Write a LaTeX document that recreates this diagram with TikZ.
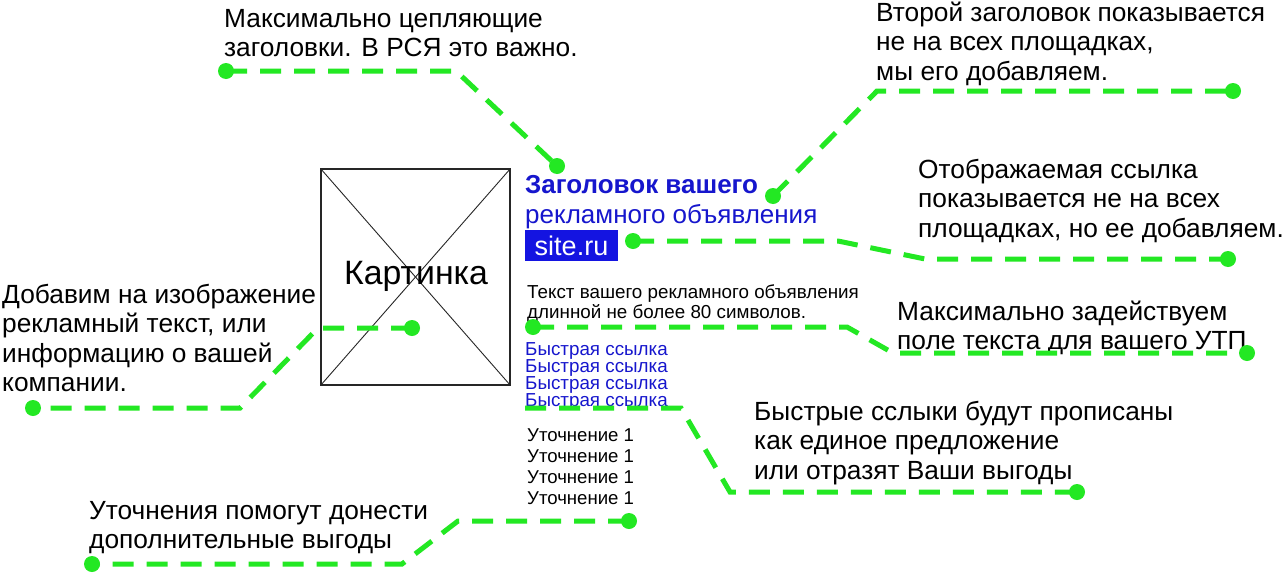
\documentclass[tikz,border=0pt]{standalone}
\usepackage{fontspec}
\setmainfont{Liberation Sans}
\definecolor{lgreen}{RGB}{35,232,35}
\definecolor{adblue}{RGB}{22,22,205}
\definecolor{boxblue}{RGB}{20,20,225}
\begin{document}
\begin{tikzpicture}[x=1pt,y=-1pt,
  dot/.style={circle,fill=lgreen,inner sep=0pt,minimum size=16pt},
  lead/.style={draw=lgreen,line width=5pt,dash pattern=on 21pt off 13pt},
  note/.style={align=left,anchor=base west,inner sep=0pt,font=\fontsize{26.3}{29.5}\selectfont},
  adline/.style={anchor=base west,inner sep=0pt},
]
\useasboundingbox (0,0) rectangle (1284,573);
\fill[white] (0,0) rectangle (1284,573);

% picture placeholder
\node[draw=black!85,line width=1.3pt,minimum width=189pt,minimum height=216pt,inner sep=0pt] (pic) at (415.5,277) {};
\draw[black!85,line width=0.9pt] (pic.north west) -- (pic.south east);
\draw[black!85,line width=0.9pt] (pic.north east) -- (pic.south west);
\node[inner sep=0pt,font=\fontsize{33.8}{38}\selectfont] (pictext) at (416,276) {Картинка};

% ad block
\node[adline,text=adblue,font=\fontsize{26}{30}\selectfont\bfseries] (title1) at (525,193) {Заголовок вашего};
\node[adline,text=adblue,font=\fontsize{26}{30}\selectfont] (title2) at (525,223) {рекламного объявления};
\node[fill=boxblue,text=white,minimum width=93pt,minimum height=31pt,inner sep=0pt,font=\fontsize{27}{30}\selectfont] (site) at (571.5,245.5) {site.ru};
\node[adline,font=\fontsize{18.8}{20}\selectfont] (body1) at (527,298) {Текст вашего рекламного объявления};
\node[adline,font=\fontsize{18.8}{20}\selectfont] (body2) at (527,318) {длинной не более 80 символов.};
\foreach \i/\y in {1/355,2/372,3/389,4/406}{
  \node[adline,text=adblue,font=\fontsize{18.8}{19}\selectfont] (ql\i) at (525,\y) {Быстрая ссылка};
}
\foreach \i/\y in {1/441,2/462,3/483,4/504}{
  \node[adline,font=\fontsize{18.6}{19}\selectfont] (ut\i) at (527,\y) {Уточнение 1};
}

% notes (anchor = baseline of last line)
\node[note] (nA) at (224,56.5) {Максимально цепляющие\\заголовки. В РСЯ это важно.};
\node[note] (nB) at (876,80) {Второй заголовок показывается\\не на всех площадках,\\мы его добавляем.};
\node[note] (nC) at (918,237) {Отображаемая ссылка\\показывается не на всех\\площадках, но ее добавляем.};
\node[note] (nD) at (897,349.5) {Максимально задействуем\\поле текста для вашего УТП};
\node[note] (nE) at (754,479) {Быстрые сслыки будут прописаны\\как единое предложение\\или отразят Ваши выгоды};
\node[note] (nF) at (89,548.5) {Уточнения помогут донести\\дополнительные выгоды};
\node[note] (nG) at (2,391.5) {Добавим на изображение\\рекламный текст, или\\информацию о вашей\\компании.};

% connector points
\coordinate (pA1) at (226,71);  \coordinate (bA) at (456,71);  \coordinate (pA2) at (557,166);
\coordinate (pB1) at (773,196); \coordinate (bB) at (877,91);  \coordinate (pB2) at (1233,91);
\coordinate (pC1) at (633,241); \coordinate (bC1) at (838,241); \coordinate (bC2) at (925,259); \coordinate (pC2) at (1228,259);
\coordinate (pD1) at (533,327); \coordinate (bD1) at (847,327); \coordinate (bD2) at (893,353); \coordinate (pD2) at (1247,353);
\coordinate (sE) at (525,408);  \coordinate (bE1) at (681,408); \coordinate (bE2) at (730,492); \coordinate (pE) at (1077,492);
\coordinate (pF1) at (629,521); \coordinate (bF1) at (458,521); \coordinate (bF2) at (402,564); \coordinate (pF2) at (92,564);
\coordinate (pG1) at (412,328); \coordinate (bG1) at (318,328); \coordinate (bG2) at (240,408); \coordinate (pG2) at (33,408);

\draw[lead] (pA1) -- (bA) -- (pA2);
\draw[lead] (pB1) -- (bB) -- (pB2);
\draw[lead] (pC1) -- (bC1) -- (bC2) -- (pC2);
\draw[lead] (pD1) -- (bD1) -- (bD2) -- (pD2);
\draw[lead] (sE) -- (bE1) -- (bE2) -- (pE);
\draw[lead] (pF1) -- (bF1) -- (bF2) -- (pF2);
\draw[lead] (pG1) -- (bG1) -- (bG2) -- (pG2);

\foreach \p in {pA1,pA2,pB1,pB2,pC1,pC2,pD1,pD2,pE,pF1,pF2,pG1,pG2}{
  \node[dot] (dot-\p) at (\p) {};
}
\end{tikzpicture}
\end{document}
